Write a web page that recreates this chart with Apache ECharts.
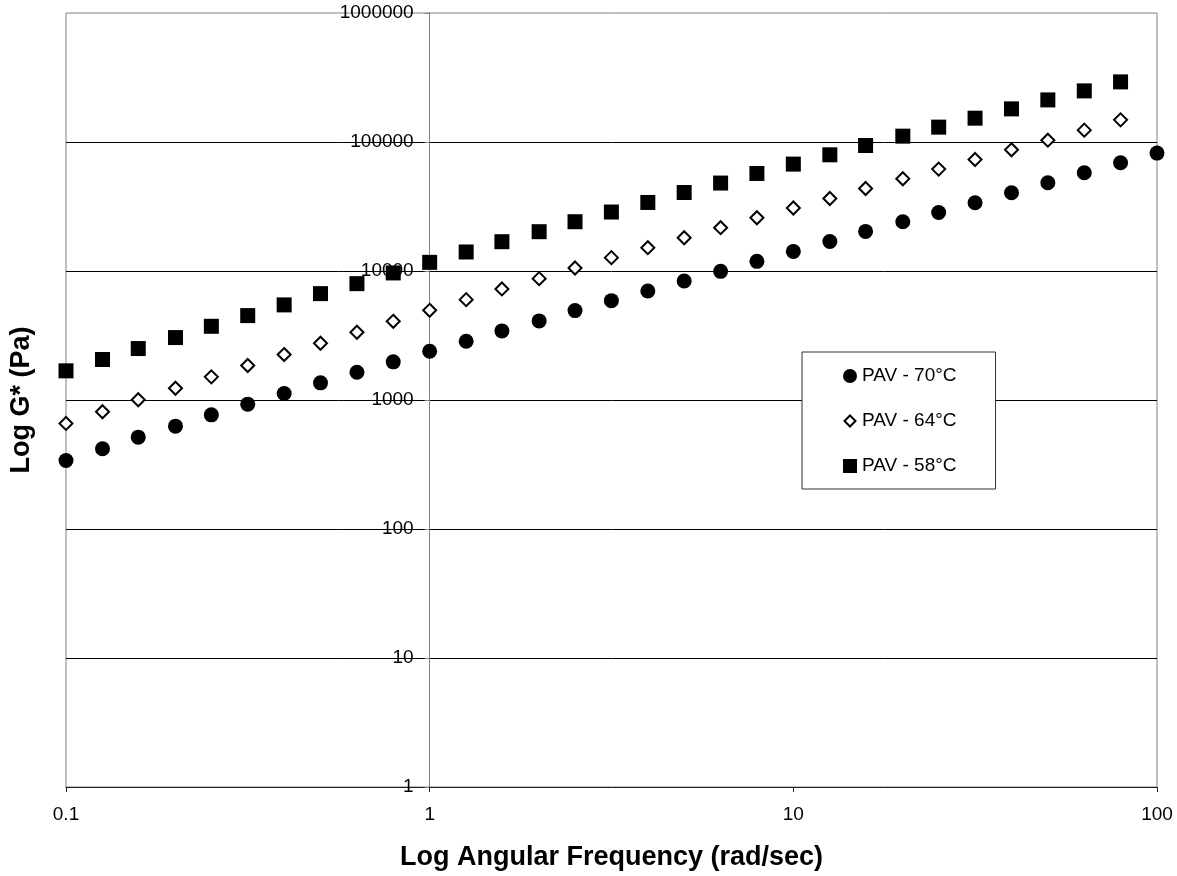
<!DOCTYPE html>
<html>
<head>
<meta charset="utf-8">
<script src="https://cdn.jsdelivr.net/npm/echarts@6/dist/echarts.min.js"></script>
<style>
html,body{margin:0;padding:0;background:#fff;}
#chart{width:1177px;height:876px;}
</style>
</head>
<body>
<div id="chart"></div>
<script>
// Angular frequency (rad/sec)
const freq = [0.1, 0.126, 0.158, 0.2, 0.251, 0.316, 0.398, 0.501, 0.631, 0.794,
  1, 1.26, 1.58, 2, 2.51, 3.16, 3.98, 5.01, 6.31, 7.94,
  10, 12.6, 15.8, 20, 25.1, 31.6, 39.8, 50.1, 63.1, 79.4, 100];

// G* (Pa)
const g70 = [340, 419, 515, 627, 767, 929, 1122, 1358, 1642, 1976,
  2388, 2853, 3434, 4105, 4930, 5893, 7005, 8375, 9938, 11880,
  14190, 16950, 20270, 24100, 28430, 33820, 40410, 48300, 57700, 68970, 82000];
const g64 = [658, 811, 1004, 1234, 1512, 1850, 2250, 2754, 3350, 4075,
  4957, 5998, 7258, 8727, 10550, 12690, 15160, 18110, 21660, 25880,
  30780, 36490, 43630, 51860, 61640, 73140, 86960, 103300, 123600, 148500];
const g58 = [1683, 2060, 2505, 3048, 3727, 4511, 5460, 6677, 7980, 9660,
  11670, 14040, 16870, 20170, 24100, 28650, 33990, 40600, 48060, 57020,
  67400, 79560, 93930, 111000, 130400, 153000, 180600, 212000, 249000, 292400];

const seriesNames = ['PAV - 70°C', 'PAV - 64°C', 'PAV - 58°C'];
const xTicks = [0.1, 1, 10, 100];
const yTicks = [1, 10, 100, 1000, 10000, 100000, 1000000];

const FONT = 'Liberation Sans, Arial, Helvetica, sans-serif';
const W = 1177, H = 876;
const gridL = 66, gridR = 20, gridT = 13, gridB = 88;
const gridW = W - gridL - gridR;
// y axis crosses the x axis at x = 1
const crossOffset = -gridW * (Math.log10(1) - Math.log10(xTicks[0])) /
  (Math.log10(xTicks[xTicks.length - 1]) - Math.log10(xTicks[0]));

function pairs(vals) { return vals.map((v, i) => [freq[i], v]); }

const chart = echarts.init(document.getElementById('chart'), null, {renderer: 'canvas'});
chart.setOption({
  backgroundColor: '#ffffff',
  animation: false,
  textStyle: {fontFamily: FONT},
  grid: {
    left: gridL, right: gridR, top: gridT, bottom: gridB,
    show: true, borderColor: '#808080', borderWidth: 1, backgroundColor: 'transparent',
    containLabel: false
  },
  legend: {
    orient: 'vertical',
    left: 802, top: 352,
    padding: [14, 39, 13, 40],
    itemGap: 25,
    itemWidth: 14, itemHeight: 14,
    backgroundColor: '#ffffff',
    borderColor: '#333333', borderWidth: 1, borderRadius: 0,
    textStyle: {fontFamily: FONT, fontSize: 19, color: '#000', lineHeight: 20},
    selectedMode: false,
    data: [
      {name: seriesNames[0], icon: 'circle'},
      {name: seriesNames[1], icon: 'path://M0,0L0,0M14,14L14,14M7,1.5L12.5,7L7,12.5L1.5,7Z',
        itemStyle: {color: '#fff', borderColor: '#000', borderWidth: 2}},
      {name: seriesNames[2], icon: 'rect'}
    ]
  },
  xAxis: {
    type: 'log', logBase: 10, min: 0.1, max: 100,
    name: 'Log Angular Frequency (rad/sec)',
    nameLocation: 'middle', nameGap: 57,
    nameTextStyle: {fontFamily: FONT, fontSize: 27, fontWeight: 'bold', color: '#000'},
    axisLine: {show: true, onZero: false, lineStyle: {color: '#222', width: 1}},
    axisTick: {show: true, length: 5, inside: false, lineStyle: {color: '#222'}},
    axisLabel: {fontFamily: FONT, fontSize: 19, color: '#000', margin: 18,
      formatter: v => v < 1 ? v.toFixed(1) : String(Math.round(v))},
    splitLine: {show: false},
    minorTick: {show: false}
  },
  yAxis: [
    {
      type: 'log', logBase: 10, min: 1, max: 1000000,
      position: 'left',
      name: 'Log G* (Pa)',
      nameLocation: 'middle', nameGap: 31, nameRotate: 90,
      nameTextStyle: {fontFamily: FONT, fontSize: 27, fontWeight: 'bold', color: '#000'},
      axisLine: {show: false},
      axisTick: {show: false},
      axisLabel: {show: false},
      splitLine: {show: true, showMinLine: false, showMaxLine: false,
        lineStyle: {color: '#000', width: 1}}
    },
    {
      type: 'log', logBase: 10, min: 1, max: 1000000,
      position: 'left',
      offset: crossOffset,
      axisLine: {show: true, onZero: false, lineStyle: {color: '#808080', width: 1}},
      axisTick: {show: true, length: 5, inside: false, lineStyle: {color: '#808080'}},
      axisLabel: {fontFamily: FONT, fontSize: 19, color: '#000', margin: 16,
        formatter: v => String(Math.round(v))},
      splitLine: {show: false}
    }
  ],
  series: [
    {
      name: seriesNames[0], type: 'scatter', yAxisIndex: 0,
      symbol: 'circle', symbolSize: 15,
      itemStyle: {color: '#000', opacity: 1},
      data: pairs(g70), z: 3
    },
    {
      name: seriesNames[1], type: 'scatter', yAxisIndex: 0,
      symbol: 'diamond', symbolSize: 13,
      itemStyle: {color: '#fff', borderColor: '#000', borderWidth: 2, opacity: 1},
      data: pairs(g64), z: 3
    },
    {
      name: seriesNames[2], type: 'scatter', yAxisIndex: 0,
      symbol: 'rect', symbolSize: 15,
      itemStyle: {color: '#000', opacity: 1},
      data: pairs(g58), z: 3
    }
  ]
});
</script>
</body>
</html>
